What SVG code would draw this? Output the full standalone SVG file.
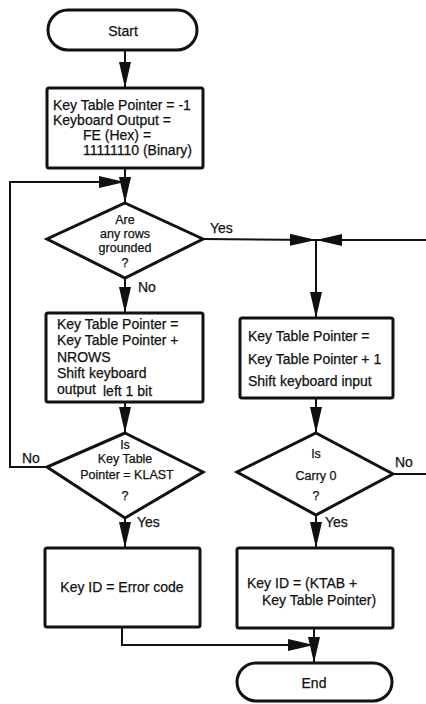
<svg xmlns="http://www.w3.org/2000/svg" width="426" height="704" viewBox="0 0 426 704">
<style>
.n{fill:#fff;stroke:#111;stroke-width:3}
.c{fill:none;stroke:#111;stroke-width:2}
text{font-family:"Liberation Sans",Arial,sans-serif;font-size:14px;fill:#111;stroke:#111;stroke-width:0.25}
.m{text-anchor:middle}
.d{font-size:12.5px}
</style>
<defs>
<marker id="a" viewBox="0 0 26 12" refX="26" refY="6" markerWidth="26" markerHeight="12" markerUnits="userSpaceOnUse" orient="auto">
<path d="M0,0 L26,6 L0,12 z" fill="#111"/>
</marker>
</defs>
<g id="connectors">
<path class="c" d="M125,50 L125,88" marker-end="url(#a)"/>
<path class="c" d="M125,168 L125,203" marker-end="url(#a)"/>
<path class="c" d="M47,467 L10,467 L10,182 L125,182" marker-end="url(#a)"/>
<path class="c" d="M203,239 L316,240" marker-end="url(#a)"/>
<path class="c" d="M426,240 L316,240" marker-end="url(#a)"/>
<path class="c" d="M316,240 L316,318" marker-end="url(#a)"/>
<path class="c" d="M125,278 L125,313" marker-end="url(#a)"/>
<path class="c" d="M125,402 L125,433" marker-end="url(#a)"/>
<path class="c" d="M125,518 L125,548" marker-end="url(#a)"/>
<path class="c" d="M122,627 L122,645 L314,645" marker-end="url(#a)"/>
<path class="c" d="M316,398 L316,433" marker-end="url(#a)"/>
<path class="c" d="M393,474 L426,474"/>
<path class="c" d="M316,515 L316,548" marker-end="url(#a)"/>
<path class="c" d="M314,628 L314,663" marker-end="url(#a)"/>
<text x="210" y="233">Yes</text>
<text x="138" y="292">No</text>
<text x="22" y="463">No</text>
<text x="137" y="527">Yes</text>
<text x="395" y="467">No</text>
<text x="325" y="527">Yes</text>
</g>
<g id="start">
<rect class="n" x="48" y="10" width="149" height="40" rx="20"/>
<text class="m" x="123" y="36">Start</text>
</g>
<g id="init">
<rect class="n" x="47" y="88" width="156" height="80" rx="2"/>
<text x="53" y="110">Key Table Pointer = -1</text>
<text x="53" y="125">Keyboard Output =</text>
<text x="83" y="140">FE (Hex) =</text>
<text x="83" y="155">11111110 (Binary)</text>
</g>
<g id="rows">
<path class="n" d="M125,203 L203,239 L125,278 L47,239 Z"/>
<text class="m d" x="125" y="224">Are</text>
<text class="m d" x="125" y="238">any rows</text>
<text class="m d" x="125" y="252">grounded</text>
<text class="m d" x="125" y="267">?</text>
</g>
<g id="shift">
<rect class="n" x="46" y="313" width="157" height="89" rx="2"/>
<text x="57" y="329">Key Table Pointer  =</text>
<text x="57" y="345">Key Table Pointer  +</text>
<text x="57" y="362">NROWS</text>
<text x="57" y="378">Shift keyboard</text>
<text x="57" y="394">output</text>
<text x="103" y="396">left 1 bit</text>
</g>
<g id="klast">
<path class="n" d="M125,433 L203,472 L125,518 L47,467 Z"/>
<text class="m d" x="125" y="449">Is</text>
<text class="m d" x="125" y="463">Key Table</text>
<text class="m d" x="127" y="479">Pointer = KLAST</text>
<text class="m d" x="125" y="500">?</text>
</g>
<g id="error">
<rect class="n" x="45" y="548" width="155" height="79" rx="2"/>
<text class="m" x="122" y="592">Key ID = Error code</text>
</g>
<g id="inc">
<rect class="n" x="240" y="318" width="153" height="80" rx="2"/>
<text x="248" y="341">Key Table Pointer =</text>
<text x="248" y="364">Key Table Pointer + 1</text>
<text x="248" y="386">Shift keyboard input</text>
</g>
<g id="carry">
<path class="n" d="M316,433 L393,474 L316,515 L237,472 Z"/>
<text class="m d" x="316" y="458">Is</text>
<text class="m d" x="316" y="480">Carry 0</text>
<text class="m d" x="316" y="500">?</text>
</g>
<g id="keyid">
<rect class="n" x="237" y="548" width="156" height="80" rx="2"/>
<text x="247" y="588">Key ID = (KTAB  +</text>
<text x="262" y="605">Key Table Pointer)</text>
</g>
<g id="end">
<rect class="n" x="237" y="663" width="155" height="38" rx="19"/>
<text class="m" x="314" y="688">End</text>
</g>
</svg>
